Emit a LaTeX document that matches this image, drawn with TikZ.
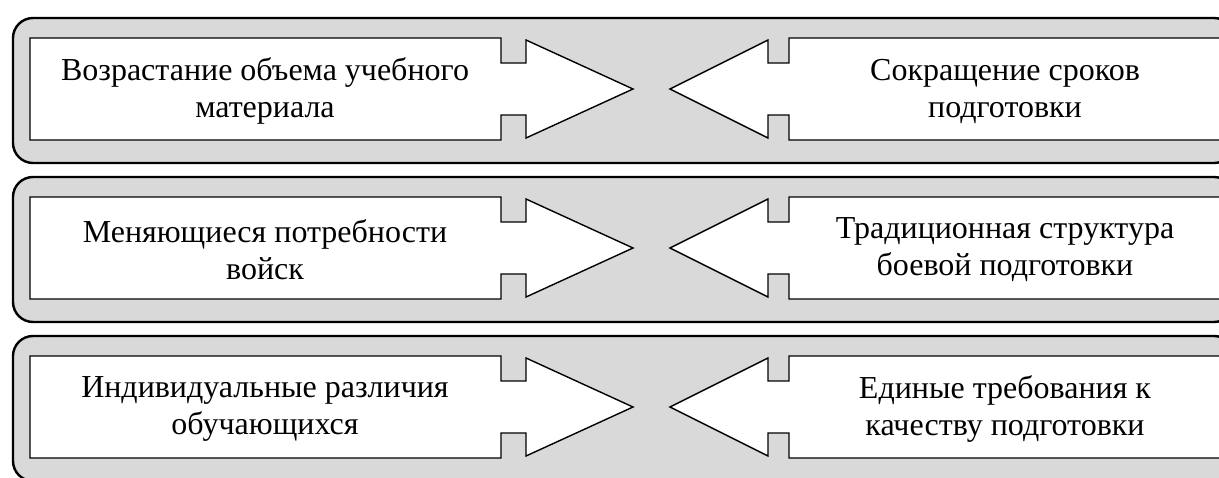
\documentclass[tikz,border=0pt]{standalone}
\usepackage{fontspec}
\setmainfont{Liberation Serif}
\begin{document}
\begin{tikzpicture}[x=1pt,y=-1pt,
  band/.style={draw=black, line width=2.4pt, fill=black!15, rounded corners=20pt},
  arrowshape/.style={draw=black, line width=1.4pt, fill=white, line join=miter},
  factor/.style={font=\fontsize{32}{37}\selectfont, align=center, inner sep=0pt, text=black}]
\useasboundingbox (0,0) rectangle (1219,477);
\clip (0,0) rectangle (1219,477);
\foreach \c/\i/\lt/\rt in {
  89/1/{Возрастание объема учебного\\материала}/{Сокращение сроков\\подготовки},
  248/2/{Меняющиеся потребности\\войск}/{Традиционная структура\\боевой подготовки},
  407/3/{Индивидуальные различия\\обучающихся}/{Единые требования к\\качеству подготовки}} {
  % grey band holding one pair of opposing factors
  \draw[band] (13,\c-71) rectangle (1234,\c+74);
  % left factor pushing to the right
  \draw[arrowshape] (30,\c-51) -- (501,\c-51) -- (501,\c-26) -- (526,\c-26) -- (526,\c-49)
    -- (633,\c) -- (526,\c+49) -- (526,\c+26) -- (501,\c+26) -- (501,\c+51) -- (30,\c+51) -- cycle;
  % right factor pushing to the left
  \draw[arrowshape] (1221,\c-51) -- (789,\c-51) -- (789,\c-26) -- (768,\c-26) -- (768,\c-49)
    -- (670,\c) -- (768,\c+49) -- (768,\c+26) -- (789,\c+26) -- (789,\c+51) -- (1221,\c+51) -- cycle;
  \node[factor] (l\i) at (265,\c+2) {\lt};
  \node[factor] (r\i) at (1005,\c+2) {\rt};
}
\end{tikzpicture}
\end{document}
